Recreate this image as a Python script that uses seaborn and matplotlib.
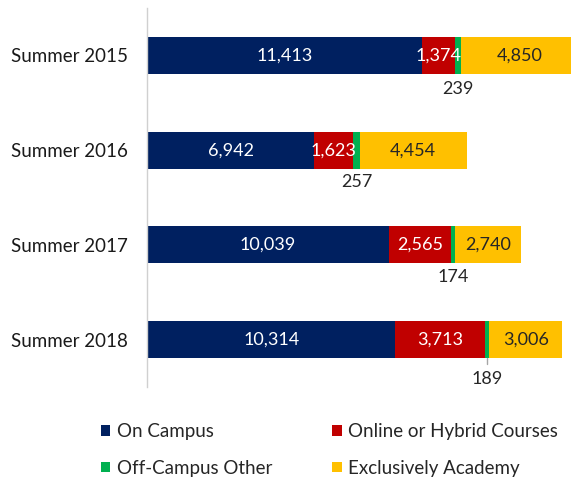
import numpy as np
import pandas as pd
import seaborn as sns
import matplotlib.pyplot as plt
from matplotlib.patches import Patch

terms = ['Summer 2015', 'Summer 2016', 'Summer 2017', 'Summer 2018']
on_campus = [11413, 6942, 10039, 10314]
online_hybrid = [1374, 1623, 2565, 3713]
off_campus = [239, 257, 174, 189]
academy = [4850, 4454, 2740, 3006]

series = ['On Campus', 'Online or Hybrid Courses', 'Off-Campus Other', 'Exclusively Academy']
colors = ['#002060', '#C00000', '#00B050', '#FFC000']
label_colors = ['white', 'white', '#262626', '#262626']

sns.set_theme(style='white')
plt.rcParams['font.family'] = ['Lato', 'DejaVu Sans']

df = pd.DataFrame({'term': terms, 'On Campus': on_campus,
                   'Online or Hybrid Courses': online_hybrid,
                   'Off-Campus Other': off_campus,
                   'Exclusively Academy': academy})
# running totals so the bars can be stacked by overdrawing
cum = df[series].cumsum(axis=1)

fig = plt.figure(figsize=(5.71, 4.82), dpi=100)
ax = fig.add_axes([147 / 571, 1 - 387 / 482, 1 - 147 / 571, (387 - 8) / 482])

for name, col in reversed(list(zip(series, colors))):
    sns.barplot(x=cum[name], y=df['term'], orient='h', color=col, width=0.39,
                saturation=1, ax=ax, linewidth=0)

# segment labels
below_off = [0.35, 0.34, 0.34, 0.42]
for i in range(len(terms)):
    for j, name in enumerate(series):
        val = df[name][i]
        mid = cum[name][i] - val / 2
        if name == 'Off-Campus Other':
            ax.text(mid, i + below_off[i], f'{val:,}', ha='center', va='center',
                    fontsize=13, color='#262626', clip_on=False)
            if i == 3:
                ax.plot([mid, mid], [i + 0.195, i + 0.26], color='#A6A6A6', lw=1)
        else:
            ax.text(mid, i, f'{val:,}', ha='center', va='center',
                    fontsize=13, color=label_colors[j], clip_on=True)

ax.set_xlim(0, 17600)
ax.set_ylim(3.5, -0.5)
ax.set_xlabel('')
ax.set_ylabel('')
ax.set_xticks([])
ax.tick_params(axis='y', length=0, pad=14, labelsize=13.5, labelcolor='#1a1a1a')
for s in ['top', 'right', 'bottom']:
    ax.spines[s].set_visible(False)
ax.spines['left'].set_color('#D0D0D0')
ax.spines['left'].set_linewidth(1)

# legend fills column-wise, so reorder to read row by row
order = [0, 2, 1, 3]
handles = [Patch(facecolor=colors[k], edgecolor='none') for k in order]
fig.legend(handles, [series[k] for k in order], loc='upper left',
           bbox_to_anchor=(84 / 571, 1 - 406 / 482),
           ncol=2, frameon=False, fontsize=13.5, handlelength=0.5, handleheight=0.5,
           handletextpad=0.35, columnspacing=3.2, labelspacing=1.05,
           labelcolor='#262626')

fig.savefig('out.png', dpi=100)
